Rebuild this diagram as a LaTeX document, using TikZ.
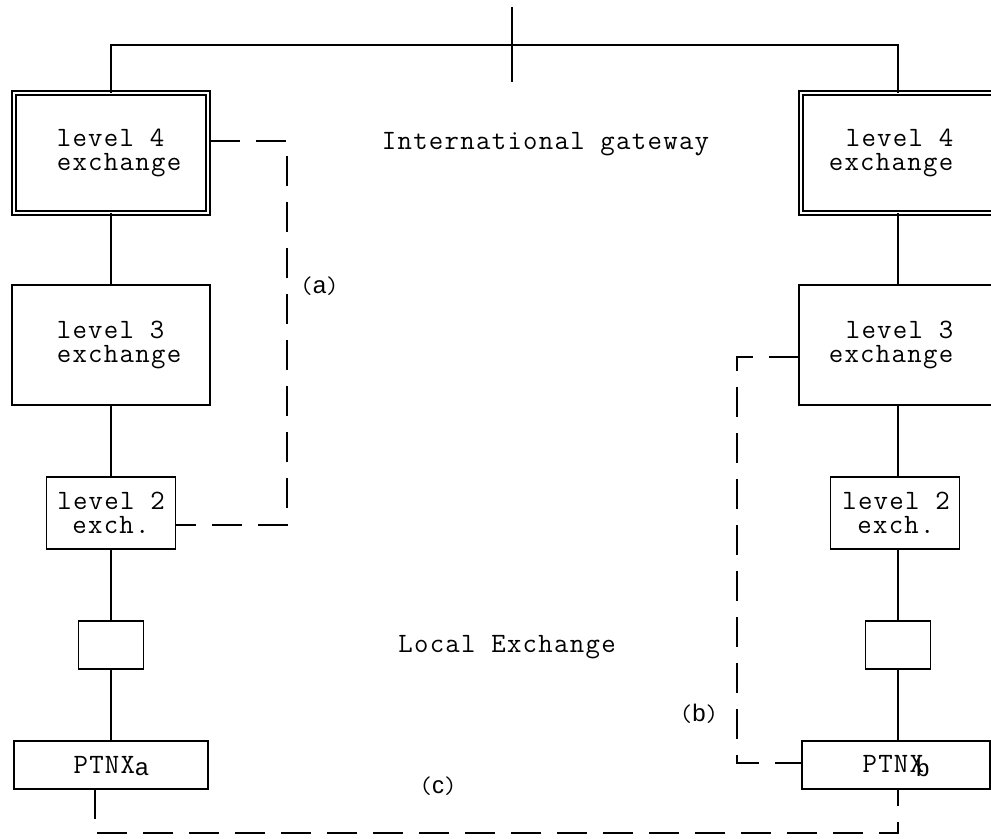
\documentclass[tikz,border=0pt]{standalone}
\usepackage{fontspec}
\setmainfont[LetterSpace=4.6]{Latin Modern Mono}
\newfontfamily\subfont{Liberation Sans}
\usetikzlibrary{calc}

\tikzset{
  wire/.style={line width=1.3pt},
  dashwire/.style={line width=1.3pt, dash pattern=on 22.5pt off 12pt},
  exbox/.style={draw, rectangle, line width=1.3pt, inner sep=0pt, outer sep=0pt},
  topbox/.style={draw, rectangle, line width=1.1pt, double, double distance=1.9pt,
                 inner sep=0pt, outer sep=0pt},
  txt/.style={font=\fontsize{21}{17.5}\selectfont, inner sep=0pt},
  lbl/.style={font=\fontsize{18}{18}\selectfont, inner sep=0pt, anchor=base},
}
\newcommand{\subletter}[1]{{\fontsize{18}{18}\selectfont\subfont #1}}

\begin{document}
\begin{tikzpicture}[x=0.75pt, y=-0.75pt]
  \clip (0,0) rectangle (991,838);
  \fill[white] (0,0) rectangle (991,838);

  % exchange boxes, left hierarchy
  \node[topbox, minimum width=145.5pt, minimum height=90pt] (l4a) at (111,153) {};
  \node[exbox, minimum width=148.5pt, minimum height=90pt] (l3a) at (111,345) {};
  \node[exbox, minimum width=96.75pt, minimum height=54pt] (l2a) at (111,513) {};
  \node[exbox, minimum width=48.75pt, minimum height=36pt] (la) at (111,645) {};
  \node[exbox, minimum width=145.5pt, minimum height=36pt] (pa) at (111,765) {};

  % exchange boxes, right hierarchy
  \node[topbox, minimum width=145.5pt, minimum height=90pt] (l4b) at (898,153) {};
  \node[exbox, minimum width=148.5pt, minimum height=90pt] (l3b) at (898,345) {};
  \node[exbox, minimum width=96.75pt, minimum height=54pt] (l2b) at (895,513) {};
  \node[exbox, minimum width=48.75pt, minimum height=36pt] (lb) at (898,645) {};
  \node[exbox, minimum width=141pt, minimum height=36pt] (pb) at (896,765) {};

  % box texts
  \node[txt, align=left]   (t4a) at (119,153) {level 4\\exchange};
  \node[txt, align=left]   (t3a) at (119,345) {level 3\\exchange};
  \node[txt, align=center] (t2a) at (111,513) {level 2\\exch.};
  \node[txt] (tpa) at (111,766) {PTNX\raisebox{-2pt}{\subletter{a}}};
  \node[txt, align=right]  (t4b) at (891,153) {level 4\\exchange};
  \node[txt, align=right]  (t3b) at (891,345) {level 3\\exchange};
  \node[txt, align=center] (t2b) at (896,513) {level 2\\exch.};
  \node[txt] (tpb) at (896,766) {PTNX\kern-6pt\raisebox{-2.5pt}{\subletter{b}}};

  % free texts
  \node[txt, anchor=base] (intl) at (545.5,150) {International gateway};
  \node[txt, anchor=base] (local) at (507,652) {Local Exchange};
  \node[lbl] (la-lbl) at (319.5,293) {({\subfont a})};
  \node[lbl] (lb-lbl) at (699,721) {({\subfont b})};
  \node[lbl] (lc-lbl) at (438,793) {({\subfont c})};

  % international link on top
  \coordinate (topL) at (111,45);
  \coordinate (topR) at (898,45);
  \coordinate (crossT) at (512,7);
  \coordinate (crossB) at (512,82);
  \draw[wire] (l4a.north) -- (topL) -- (topR) -- (l4b.north);
  \draw[wire] (crossT) -- (crossB);

  % vertical hierarchy links
  \draw[wire] (l4a.south) -- (l3a.north);
  \draw[wire] (l3a.south) -- (l2a.north);
  \draw[wire] (l2a.south) -- (la.north);
  \draw[wire] (la.south) -- (pa.north);
  \draw[wire] (l4b.south) -- (l3b.north);
  \draw[wire] (l3b.south) -- (l3b.south |- l2b.north);
  \draw[wire] (lb.north |- l2b.south) -- (lb.north);
  \draw[wire] (lb.south) -- (lb.south |- pb.north);

  % route (a)
  \coordinate (a1) at (287,141);
  \coordinate (a2) at (287,525);
  \draw[dashwire] ($(l4a.east)+(2,-12)$) -- (a1) -- (a2) -- ($(l2a.east)+(0,12)$);

  % route (b)
  \coordinate (b1) at (737,357);
  \coordinate (b2) at (737,763);
  \draw[dashwire] ($(l3b.west)+(0,12)$) -- (b1) -- (b2) -- ($(pb.west)+(0,-2)$);

  % route (c)
  \coordinate (c1) at (95,833);
  \coordinate (c2) at (898,833);
  \draw[dashwire] ($(pa.south)+(-16,0)$) -- (c1) -- (c2) -- ($(pb.south)+(2,0)$);
\end{tikzpicture}
\end{document}
